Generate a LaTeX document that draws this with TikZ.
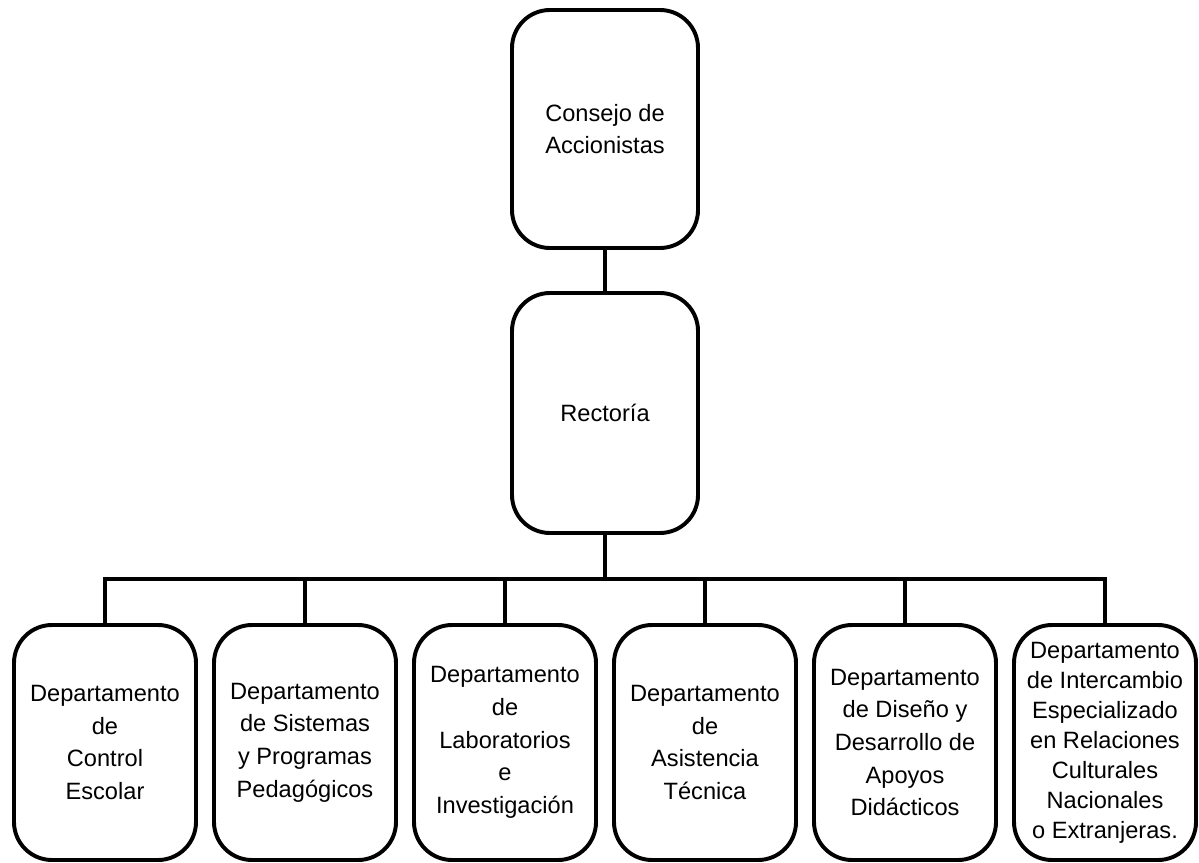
\documentclass[tikz,border=0pt]{standalone}
\usepackage{fontspec}
\setmainfont{Liberation Sans}
\usepackage{tikz}
\usetikzlibrary{positioning}

\begin{document}
\begin{tikzpicture}[
        node distance=0.45cm,
        box/.style={rectangle, draw, line width=2.8pt, outer sep=0pt, rounded corners=0.95cm, minimum width=4.55cm, align=center, font=\fontsize{16.8}{23.2}\selectfont},
        dept/.style={box, minimum height=5.875cm},
        line/.style={line width=2.4pt}
    ]
    \useasboundingbox (0,0) rectangle (29.975,-21.575);
%
    % Nodes
    \node[box, minimum width=4.65cm, minimum height=5.95cm] (consejo) at (15.125,-3.225) {Consejo de\\Accionistas};
    \node[box, minimum width=4.65cm, minimum height=6cm, below=1.125cm of consejo] (rectoria) {Rectoría};
%
    \node[dept, below=2.3cm of rectoria, xshift=-12.5cm] (control) {Departamento\\de\\Control\\Escolar};
    \node[dept, right=of control] (sistemas) {Departamento\\de Sistemas\\y Programas\\Pedagógicos};
    \node[dept, right=of sistemas] (laboratorios) {Departamento\\de\\Laboratorios\\e\\Investigación};
    \node[dept, right=of laboratorios] (asistencia) {Departamento\\de\\Asistencia\\Técnica};
    \node[dept, right=of asistencia] (apoyos) {Departamento\\de Diseño y\\Desarrollo de\\Apoyos\\Didácticos};
    \node[dept, right=of apoyos, font=\fontsize{16.8}{21.3}\selectfont] (intercambio) {Departamento\\de Intercambio\\Especializado\\en Relaciones\\Culturales\\Nacionales\\o Extranjeras.};
%
    % Lines
    \draw[line] (consejo) -- (rectoria);
    \foreach \d in {control, sistemas, laboratorios, asistencia, apoyos, intercambio}
        \draw[line] (rectoria.south) -- ++(0,-1.15) -| (\d.north);
%
\end{tikzpicture}
\end{document}
